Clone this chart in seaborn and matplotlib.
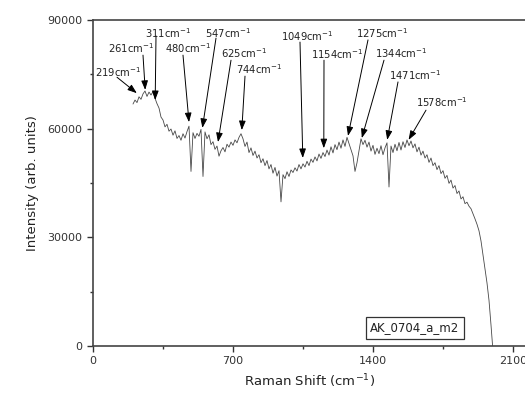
import numpy as np
import pandas as pd
import matplotlib
matplotlib.use("Agg")
import matplotlib.pyplot as plt
import seaborn as sns

# Raman shift sampling (cm^-1)
shift = list(range(200, 2001, 10))

intensity = [
    66800, 67900, 67200, 68800, 68100, 69600, 70400, 68900, 70100, 69300,   # 200-290
    70200, 68400, 66900, 65700, 63200, 62400, 60500, 61200, 59300, 59900,   # 300-390
    58200, 59400, 57300, 58100, 56800, 58600, 57400, 59200, 60700, 48200,   # 400-490
    58900, 57300, 58700, 57900, 59800, 46800, 59100, 57200, 58300, 55600,   # 500-590
    56400, 54300, 55200, 52400, 53900, 54800, 53600, 55700, 54900, 56300,   # 600-690
    55400, 56900, 56100, 57600, 58600, 57200, 55100, 56300, 53400, 54700,   # 700-790
    52600, 53800, 51900, 52800, 50600, 51700, 49800, 51200, 48900, 50100,   # 800-890
    47700, 49300, 46900, 48400, 39800, 47300, 46200, 48100, 46800, 48600,   # 900-990
    47900, 49200, 48300, 50100, 48900, 50300, 49400, 51000, 49800, 51600,   # 1000-1090
    50700, 52200, 51100, 53000, 51800, 53400, 52300, 54100, 52700, 55000,   # 1100-1190
    53300, 55600, 54200, 56300, 54600, 56900, 55100, 57600, 55900, 54200,   # 1200-1290
    52500, 48200, 50600, 53900, 57200, 55600, 56800, 54900, 56300, 53800,   # 1300-1390
    55400, 52900, 54600, 53100, 55300, 52800, 54700, 56100, 43900, 55200,   # 1400-1490
    53400, 55700, 53900, 56200, 54100, 56400, 54800, 56900, 55300, 56600,   # 1500-1590
    54700, 55800, 53600, 54900, 52700, 53800, 51900, 52800, 50700, 51900,   # 1600-1690
    49800, 50600, 48700, 49800, 47600, 48400, 46300, 47100, 44900, 45800,   # 1700-1790
    43600, 44300, 42100, 42800, 40600, 41200, 39300, 39700, 38600, 37900,   # 1800-1890
    36500, 35100, 33600, 31800, 29000, 25200, 21300, 17400, 12600, 5800,    # 1900-1990
    -1500,                                                                  # 2000
]

peak_labels = [219, 261, 311, 480, 547, 625, 744, 1049, 1154, 1275, 1344, 1471, 1578]
arrow_tip_y = [69800, 70700, 67900, 61800, 60200, 56300, 59600, 51900, 54600, 58000, 57400, 56900, 56900]
arrow_tail = [(120, 74200), (250, 80300), (315, 85600), (450, 80300), (615, 85000),
              (690, 78900), (760, 74500), (1035, 83900), (1155, 78900), (1375, 84500),
              (1455, 78900), (1525, 72900), (1665, 65100)]
text_pos = [(125, 75600), (190, 82200), (375, 86400), (475, 82200), (675, 86400),
            (755, 80900), (830, 76500), (1070, 85600), (1220, 80600), (1445, 86400),
            (1540, 80900), (1610, 74800), (1745, 67300)]

df = pd.DataFrame({"shift": shift, "intensity": intensity})

sns.set_style("ticks")
plt.rcParams["font.family"] = ["DejaVu Sans"]

fig = plt.figure(figsize=(5.25, 4.01), dpi=100)
ax = fig.add_axes([93 / 525, 55 / 401, 434 / 525, 326 / 401])

sns.lineplot(data=df, x="shift", y="intensity", ax=ax, color="#474747",
             linewidth=0.6, sort=True, estimator=None)

ax.set_xlim(0, 2170)
ax.set_ylim(0, 90000)
ax.set_xticks([0, 700, 1400, 2100])
ax.set_xticks([350, 1050, 1750], minor=True)
ax.set_yticks([0, 30000, 60000, 90000])
ax.set_yticks([15000, 45000, 75000], minor=True)
ax.tick_params(axis="both", which="major", length=4, width=1, direction="out",
               labelsize=8, colors="#333333")
ax.tick_params(axis="both", which="minor", length=2.5, width=1, direction="out",
               colors="#333333")
for s in ["left", "bottom", "top"]:
    ax.spines[s].set_color("#444444")
    ax.spines[s].set_linewidth(1.2)
ax.spines["right"].set_visible(False)

ax.set_xlabel("Raman Shift (cm$^{-1}$)", fontsize=9.5, color="#222222", labelpad=4)
ax.set_ylabel("Intensity (arb. units)", fontsize=9.5, color="#222222", labelpad=6)

for lab, ty, tail, tpos in zip(peak_labels, arrow_tip_y, arrow_tail, text_pos):
    ax.annotate("", xy=(lab, ty), xytext=tail,
                arrowprops=dict(arrowstyle="-|>,head_length=0.55,head_width=0.2",
                                color="black", lw=0.7, shrinkA=0, shrinkB=0))
    ax.text(tpos[0], tpos[1], f"{lab}cm$^{{-1}}$", fontsize=7.2, ha="center",
            va="center", color="#222222")

ax.text(1610, 4970, "AK_0704_a_m2", fontsize=8.5, ha="center", va="center",
        color="#222222",
        bbox=dict(boxstyle="square,pad=0.35", fc="white", ec="#333333", lw=0.9))

fig.savefig("out.png", dpi=100)
